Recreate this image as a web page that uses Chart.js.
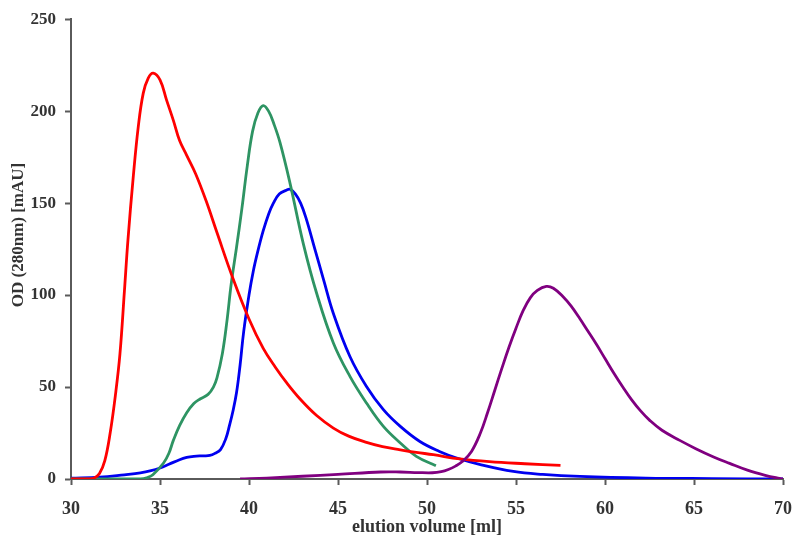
<!DOCTYPE html>
<html>
<head>
<meta charset="utf-8">
<script src="https://cdn.jsdelivr.net/npm/chart.js@4"></script>
<style>
  body { margin: 0; background: #fff; }
  #wrap { position: relative; width: 800px; height: 543px; }
</style>
</head>
<body>
<div id="wrap"><canvas id="chart" width="800" height="543"></canvas></div>
<script>
// elution volume (ml) and OD280 (mAU)
const volRed = [30, 31.0, 31.3, 31.6, 31.9, 32.2, 32.5, 32.75, 33.0, 33.2, 33.5, 33.78, 34.06, 34.34, 34.62, 35.0, 35.37, 35.75, 36.1, 36.5, 37.0, 37.6, 38.2, 39.1, 40.0, 40.8, 41.5, 42.1, 42.87, 43.8, 44.74, 45.6, 46.6, 47.5, 48.5, 49.4, 50.35, 51.85, 53.5, 55.5, 57.5];
const odRed = [0, 0, 0.5, 3, 10, 25, 46, 68, 102, 130, 164.5, 191.6, 209.8, 218, 220.7, 217, 206, 195, 184, 176, 166, 151, 134, 109, 87, 71, 60.5, 52.5, 43.5, 34.5, 27.7, 23.3, 19.9, 17.6, 15.9, 14.5, 13.2, 10.9, 9.4, 8.3, 7.4];

const volGreen = [30, 33.9, 34.3, 34.6, 35.2, 35.5, 35.75, 36.1, 36.5, 36.9, 37.25, 37.7, 38.0, 38.2, 38.5, 38.75, 39.0, 39.3, 39.6, 39.9, 40.2, 40.5, 40.8, 41.1, 41.4, 41.74, 42.3, 43.05, 43.8, 44.74, 45.67, 46.6, 47.55, 48.5, 49.4, 50.5];
const odGreen = [0, 0, 0.8, 2.3, 8.7, 14, 21, 29, 36, 41, 43.5, 46, 50, 55, 68, 85, 106, 126, 147, 170, 189, 199, 203, 200, 193, 183, 161, 128, 101, 74, 55.8, 41.3, 28.6, 19.6, 12.3, 7.2];

const volBlue = [30, 31.6, 33.0, 33.9, 34.5, 35.0, 35.5, 36.1, 36.5, 36.9, 37.4, 37.8, 38.1, 38.4, 38.7, 38.9, 39.1, 39.3, 39.5, 39.7, 40.0, 40.24, 40.5, 40.8, 41.1, 41.37, 41.7, 42.1, 42.3, 42.6, 42.9, 43.2, 43.7, 44.2, 44.74, 45.67, 46.6, 47.55, 48.5, 49.6, 50.7, 51.67, 53.0, 54.85, 56.5, 58.6, 62.3, 66, 70];
const odBlue = [0.5, 1, 2.3, 3.3, 4.5, 6, 8, 10.5, 11.7, 12.3, 12.6, 12.8, 14, 16, 22, 29, 37, 47, 62, 80, 100, 113, 124, 135, 144, 150, 155, 157, 157.5, 155, 150, 142, 125, 108, 90, 66.6, 50.3, 37.7, 28.6, 20.4, 15, 11.4, 7.8, 4.1, 2.5, 1.4, 0.5, 0.2, 0];

const volPurple = [39.5, 41, 43, 45, 47.4, 48.5, 49.5, 50.3, 50.8, 51.2, 51.6, 52.0, 52.5, 53.0, 53.4, 53.8, 54.2, 54.6, 55.0, 55.4, 55.8, 56.2, 56.7, 57.1, 57.66, 58.1, 58.6, 59.0, 59.5, 60.0, 60.5, 61.0, 61.5, 62.0, 62.5, 63.2, 64.2, 65.1, 66.1, 67.0, 68.0, 69.0, 69.8, 70];
const odPurple = [0, 0.5, 1.5, 2.5, 3.8, 3.8, 3.5, 3.4, 4, 5.2, 7, 9.6, 15, 25, 36, 48, 60, 71.5, 82, 91.5, 98.5, 102.5, 104.7, 103.7, 99, 94, 87, 81, 73.5, 65.5, 57.5, 50, 43, 37, 32, 26.5, 21, 16.5, 12, 8.5, 4.8, 2, 0.3, 0];

const xTicks = [30, 35, 40, 45, 50, 55, 60, 65, 70];
const yTicks = [0, 50, 100, 150, 200, 250];

function pts(xs, ys) {
  return xs.map((x, i) => ({ x: x, y: ys[i] }));
}

const serif = '"Liberation Serif", "Times New Roman", serif';
const axisGray = "#5a5a5a";
const textColor = "#333333";

function line(data, color) {
  return {
    data: data,
    borderColor: color,
    borderWidth: 2.8,
    pointRadius: 0,
    fill: false,
    tension: 0.4,
  };
}

// y title sits a bit above the middle of the axis in the original
const yTitle = {
  id: "yTitle",
  afterDraw(chart) {
    const c = chart.ctx;
    c.save();
    c.translate(19, 235);
    c.rotate(-Math.PI / 2);
    c.font = "bold 17px " + serif;
    c.fillStyle = textColor;
    c.textAlign = "center";
    c.textBaseline = "middle";
    c.fillText("OD (280nm) [mAU]", 0, 0);
    c.restore();
  },
};

const ctx = document.getElementById("chart").getContext("2d");
new Chart(ctx, {
  type: "line",
  data: {
    datasets: [
      line(pts(volPurple, odPurple), "#800080"),
      line(pts(volRed, odRed), "#ff0000"),
      line(pts(volGreen, odGreen), "#2e9463"),
      line(pts(volBlue, odBlue), "#0000f0"),
    ],
  },
  plugins: [yTitle],
  options: {
    responsive: false,
    animation: false,
    layout: { padding: { left: 0, right: 17, top: 19, bottom: 0 } },
    plugins: { legend: { display: false }, tooltip: { enabled: false } },
    scales: {
      x: {
        type: "linear",
        min: xTicks[0],
        max: xTicks[xTicks.length - 1],
        afterFit: (s) => { s.height = 64; s.paddingLeft = 0; s.paddingRight = 0; },
        afterBuildTicks: (s) => { s.ticks = xTicks.map((v) => ({ value: v })); },
        border: { color: axisGray, width: 2 },
        grid: { drawOnChartArea: false, tickLength: 6, tickColor: axisGray, tickWidth: 2 },
        ticks: { padding: 14, color: textColor, font: { family: serif, size: 18, weight: "bold" } },
        title: {
          display: true,
          text: "elution volume [ml]",
          color: textColor,
          padding: { top: 0, bottom: 5 },
          font: { family: serif, size: 18, weight: "bold" },
        },
      },
      y: {
        min: yTicks[0],
        max: yTicks[yTicks.length - 1],
        afterFit: (s) => { s.width = 71; },
        afterBuildTicks: (s) => { s.ticks = yTicks.map((v) => ({ value: v })); },
        border: { color: axisGray, width: 2 },
        grid: { drawOnChartArea: false, tickLength: 6, tickColor: axisGray, tickWidth: 2 },
        ticks: { padding: 9, color: textColor, font: { family: serif, size: 17, weight: "bold" } },
      },
    },
  },
});
</script>
</body>
</html>
